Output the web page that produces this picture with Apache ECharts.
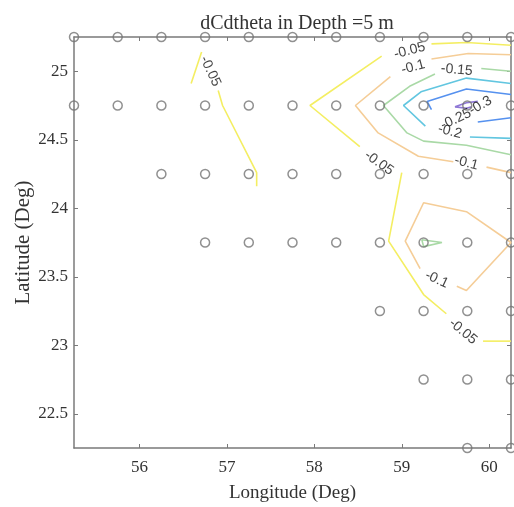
<!DOCTYPE html>
<html>
<head>
<meta charset="utf-8">
<script src="https://cdn.jsdelivr.net/npm/echarts@6/dist/echarts.min.js"></script>
<style>
  html, body { margin: 0; padding: 0; background: #fff; }
  #main { width: 514px; height: 507px; }
</style>
</head>
<body>
<div id="main"></div>
<script>
// station grid (the circles), one row per latitude
var stationLat = [25.25, 24.75, 24.25, 23.75, 23.25, 22.75, 22.25];
var stationLon = [
    [55.25, 55.75, 56.25, 56.75, 57.25, 57.75, 58.25, 58.75, 59.25, 59.75, 60.25],
    [55.25, 55.75, 56.25, 56.75, 57.25, 57.75, 58.25, 58.75, 59.25, 59.75, 60.25],
    [56.25, 56.75, 57.25, 57.75, 58.25, 58.75, 59.25, 59.75, 60.25],
    [56.75, 57.25, 57.75, 58.25, 58.75, 59.25, 59.75, 60.25],
    [58.75, 59.25, 59.75, 60.25],
    [59.25, 59.75, 60.25],
    [59.75, 60.25]
];

var xTicks = [56, 57, 58, 59, 60];
var yTicks = [22.5, 23, 23.5, 24, 24.5, 25];

// contour levels, line pieces ([lon, lat])
var levels = [-0.05, -0.1, -0.15, -0.2, -0.25, -0.3];
var levelColors = ['#f4ee62', '#f5cd97', '#a9d9a6', '#62c6e0', '#5591ef', '#8f78d6'];

var c005 = [
    [[56.59, 24.91], [56.71, 25.14]],
    [[56.90, 24.86], [56.95, 24.75], [57.34, 24.26], [57.34, 24.16]],
    [[59.34, 25.20], [59.74, 25.21], [60.25, 25.19]],
    [[58.77, 25.11], [57.95, 24.75], [58.52, 24.45]],
    [[59.00, 24.26], [58.85, 23.76], [59.25, 23.37], [59.51, 23.23]],
    [[59.93, 23.03], [60.25, 23.03]]
];
var c010 = [
    [[59.34, 25.09], [59.76, 25.13], [60.25, 25.12]],
    [[58.87, 24.96], [58.47, 24.75], [58.73, 24.55], [59.19, 24.38], [59.59, 24.34]],
    [[59.97, 24.30], [60.25, 24.26]],
    [[59.63, 23.43], [59.74, 23.40], [60.25, 23.75], [59.74, 23.975], [59.25, 24.04], [59.04, 23.76], [59.21, 23.56]]
];
var c015 = [
    [[59.91, 25.02], [60.25, 25.00]],
    [[59.38, 24.98], [59.09, 24.89], [58.79, 24.75], [59.06, 24.55], [59.25, 24.49], [59.74, 24.46], [60.25, 24.39]],
    [[59.23, 23.77], [59.46, 23.75], [59.25, 23.72], [59.23, 23.77]]
];
var c020 = [
    [[60.25, 24.91], [59.74, 24.95], [59.22, 24.85], [59.02, 24.75], [59.27, 24.60]],
    [[59.78, 24.52], [60.25, 24.51]]
];
var c025 = [
    [[60.25, 24.83], [59.74, 24.87], [59.29, 24.78], [59.34, 24.72]],
    [[59.87, 24.63], [60.25, 24.66]]
];
var c030 = [
    [[59.87, 24.78], [59.74, 24.77], [59.61, 24.74], [59.74, 24.73], [59.80, 24.74]]
];
var contours = [c005, c010, c015, c020, c025, c030];

// contour labels: [lon, lat, text, rotation]
var labels = [
    [56.81, 25.00, '-0.05', -65],
    [59.09, 25.15, '-0.05', 15],
    [58.74, 24.33, '-0.05', -35],
    [59.70, 23.10, '-0.05', -40],
    [59.13, 25.03, '-0.1', 15],
    [59.74, 24.33, '-0.1', -15],
    [59.40, 23.48, '-0.1', -25],
    [59.63, 25.01, '-0.15', -5],
    [59.55, 24.56, '-0.2', -15],
    [59.62, 24.65, '-0.25', 25],
    [59.90, 24.75, '-0.3', 30]
];

var stations = [];
stationLat.forEach(function (lat, i) {
    stationLon[i].forEach(function (lon) {
        stations.push([lon, lat]);
    });
});

var serifFont = 'Liberation Serif';
var axisGray = '#7a7a7a';

var series = [];
contours.forEach(function (pieces, k) {
    pieces.forEach(function (p) {
        series.push({
            type: 'line',
            data: p,
            symbol: 'none',
            silent: true,
            clip: false,
            lineStyle: { color: levelColors[k], width: 1.6 },
            z: 2
        });
    });
});

// contour level labels
series.push({
    type: 'scatter',
    data: labels.map(function (l) {
        return { value: [l[0], l[1], l[2]], label: { rotate: l[3] } };
    }),
    symbolSize: 0,
    silent: true,
    clip: false,
    z: 4,
    label: {
        show: true,
        position: 'inside',
        formatter: function (p) { return p.value[2]; },
        color: '#111',
        fontFamily: 'Liberation Sans',
        fontSize: 14
    }
});

series.push({
    type: 'scatter',
    data: stations,
    symbol: 'circle',
    symbolSize: 9,
    silent: true,
    clip: false,
    itemStyle: { color: 'rgba(0,0,0,0)', borderColor: '#747474', borderWidth: 1.5 },
    z: 5
});

var chart = echarts.init(document.getElementById('main'));
chart.setOption({
    backgroundColor: '#fff',
    animation: false,
    title: {
        text: 'dCdtheta in Depth =5 m',
        left: 292,
        top: 9,
        textAlign: 'center',
        textStyle: { fontFamily: serifFont, fontWeight: 'normal', fontSize: 20, color: '#333' }
    },
    grid: { left: 74, right: 3, top: 37, bottom: 59, outerBoundsMode: 'none' },
    xAxis: [{
        type: 'value',
        min: 55.25,
        max: 60.25,
        position: 'bottom',
        name: 'Longitude (Deg)',
        nameLocation: 'middle',
        nameGap: 36,
        nameMoveOverlap: false,
        nameTextStyle: { fontFamily: serifFont, fontSize: 19, color: '#333' },
        axisLine: { onZero: false, lineStyle: { color: axisGray, width: 1.5 } },
        axisTick: { inside: true, length: 4, customValues: xTicks, lineStyle: { color: axisGray } },
        axisLabel: { customValues: xTicks, margin: 11, fontFamily: serifFont, fontSize: 17, color: '#333' },
        splitLine: { show: false }
    }, {
        type: 'value',
        min: 55.25,
        max: 60.25,
        position: 'top',
        axisLine: { onZero: false, lineStyle: { color: axisGray, width: 1.5 } },
        axisTick: { inside: true, length: 4, customValues: xTicks, lineStyle: { color: axisGray } },
        axisLabel: { show: false },
        splitLine: { show: false }
    }],
    yAxis: [{
        type: 'value',
        min: 22.25,
        max: 25.25,
        position: 'left',
        name: 'Latitude (Deg)',
        nameLocation: 'middle',
        nameGap: 40,
        nameMoveOverlap: false,
        nameTextStyle: { fontFamily: serifFont, fontSize: 21, color: '#333' },
        axisLine: { onZero: false, lineStyle: { color: axisGray, width: 1.5 } },
        axisTick: { inside: true, length: 4, customValues: yTicks, lineStyle: { color: axisGray } },
        axisLabel: { customValues: yTicks, margin: 6, fontFamily: serifFont, fontSize: 17, color: '#333' },
        splitLine: { show: false }
    }, {
        type: 'value',
        min: 22.25,
        max: 25.25,
        position: 'right',
        axisLine: { onZero: false, lineStyle: { color: axisGray, width: 1.5 } },
        axisTick: { inside: true, length: 4, customValues: yTicks, lineStyle: { color: axisGray } },
        axisLabel: { show: false },
        splitLine: { show: false }
    }],
    series: series
});
</script>
</body>
</html>
